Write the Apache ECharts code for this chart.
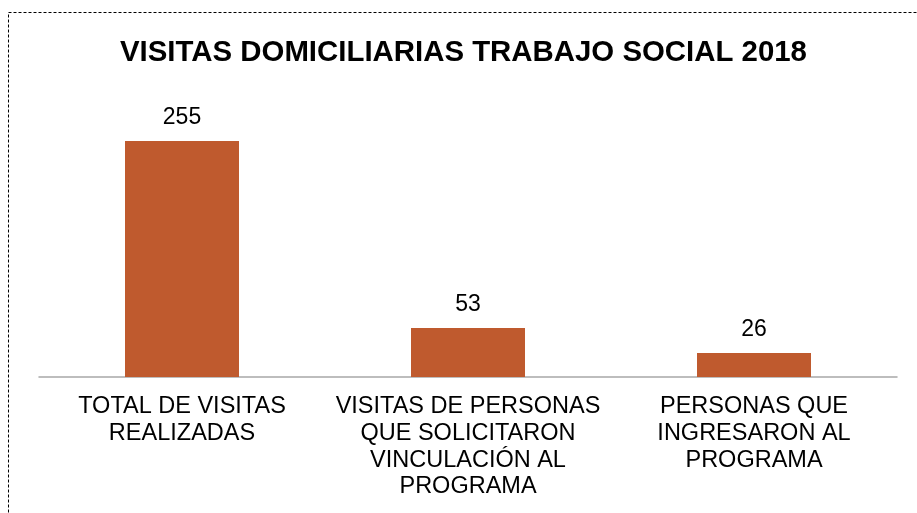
<!DOCTYPE html>
<html>
<head>
<meta charset="utf-8">
<script src="https://cdn.jsdelivr.net/npm/echarts@6/dist/echarts.min.js"></script>
<style>
  html, body { margin: 0; padding: 0; background: #fff; }
  #chart { width: 917px; height: 513px; }
</style>
</head>
<body>
<div id="chart"></div>
<script>
// datos
const categories = [
  'TOTAL DE VISITAS\nREALIZADAS',
  'VISITAS DE PERSONAS\nQUE SOLICITARON\nVINCULACIÓN AL\nPROGRAMA',
  'PERSONAS QUE\nINGRESARON AL\nPROGRAMA'
];
const visitas = [255, 53, 26];

const chart = echarts.init(document.getElementById('chart'));

const option = {
  backgroundColor: '#fff',
  animation: false,
  textStyle: { fontFamily: 'Liberation Sans, Arial, sans-serif' },
  title: {
    text: 'VISITAS DOMICILIARIAS TRABAJO SOCIAL 2018',
    left: 115,
    top: 33,
    textStyle: {
      fontFamily: 'Liberation Sans, Arial, sans-serif',
      fontSize: 29.4,
      fontWeight: 'bold',
      color: '#000'
    }
  },
  graphic: [
    {
      type: 'rect',
      silent: true,
      shape: { x: 8.5, y: 12.5, width: 1000, height: 1000 },
      style: { fill: 'none', stroke: '#000', lineWidth: 1, lineDash: [3, 2] }
    }
  ],
  grid: {
    left: 39,
    right: 20,
    top: 99.4,
    bottom: 136,
    containLabel: false
  },
  xAxis: {
    type: 'category',
    data: categories,
    axisLine: { show: true, lineStyle: { color: '#a8a8a8', width: 1.5 } },
    axisTick: { show: false },
    axisLabel: {
      interval: 0,
      margin: 16.5,
      fontSize: 23.5,
      lineHeight: 26.7,
      color: '#000',
      align: 'center'
    }
  },
  yAxis: {
    type: 'value',
    min: 0,
    max: 300,
    show: false,
    splitLine: { show: false }
  },
  series: [
    {
      type: 'bar',
      data: visitas,
      barWidth: 114,
      itemStyle: { color: '#BF5A2E' },
      label: {
        show: true,
        position: 'top',
        distance: 12,
        fontSize: 23,
        color: '#000'
      }
    }
  ]
};

option && chart.setOption(option);
</script>
</body>
</html>
